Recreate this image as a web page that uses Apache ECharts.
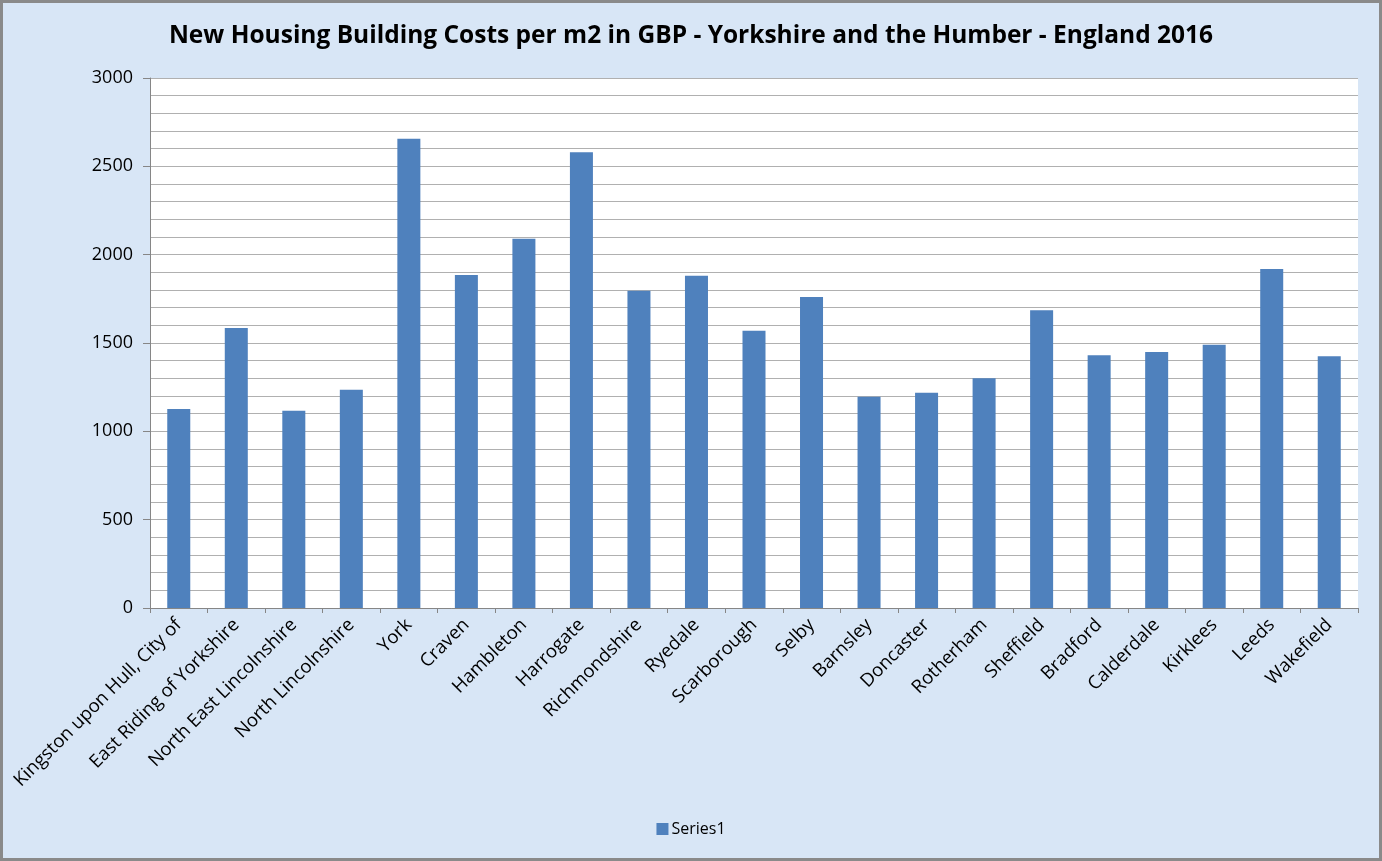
<!DOCTYPE html>
<html>
<head>
<meta charset="utf-8">
<script src="https://cdn.jsdelivr.net/npm/echarts@6/dist/echarts.min.js"></script>
<style>
html,body{margin:0;padding:0;}
#c{width:1382px;height:861px;box-sizing:border-box;border:3px solid #8a8a8a;background:#d8e6f6;}
</style>
</head>
<body>
<div id="c"></div>
<script>
const categories = ["Kingston upon Hull, City of","East Riding of Yorkshire","North East Lincolnshire","North Lincolnshire","York","Craven","Hambleton","Harrogate","Richmondshire","Ryedale","Scarborough","Selby","Barnsley","Doncaster","Rotherham","Sheffield","Bradford","Calderdale","Kirklees","Leeds","Wakefield"];
const series1 = [1127,1585,1116,1235,2656,1885,2090,2580,1796,1880,1569,1761,1196,1218,1300,1685,1431,1449,1490,1919,1425];
const yTicks = [0,500,1000,1500,2000,2500,3000];

const chart = echarts.init(document.getElementById('c'));
chart.setOption({
  backgroundColor: 'transparent',
  animation: false,
  title: {
    text: 'New Housing Building Costs per m2 in GBP - Yorkshire and the Humber - England 2016',
    left: 'center', top: 16,
    textStyle: {fontFamily: 'Open Sans', fontWeight: 'bold', fontSize: 24.5, color: '#000'}
  },
  legend: {
    bottom: 16, left: 'center',
    itemWidth: 12, itemHeight: 12, itemGap: 4,
    icon: 'rect',
    textStyle: {fontFamily: 'Open Sans', fontSize: 16, color: '#000', padding:[0,0,0,-2]},
    data: ['Series1']
  },
  grid: {left: 147, right: 21, top: 75, bottom: 250, containLabel: false},
  xAxis: {
    type: 'category', data: categories,
    axisLine: {lineStyle: {color: '#868686', width: 1}},
    axisTick: {show: true, alignWithLabel: false, length: 5, lineStyle: {color: '#868686'}},
    axisLabel: {rotate: 45, interval: 0, margin: 14, fontFamily: 'Open Sans', fontSize: 18.5, color: '#000'}
  },
  yAxis: {
    type: 'value', min: yTicks[0], max: yTicks[yTicks.length-1], interval: 500,
    axisLine: {show: true, lineStyle: {color: '#868686'}},
    axisTick: {show: true, length: 7, lineStyle: {color: '#868686'}},
    axisLabel: {fontFamily: 'Open Sans', fontSize: 18, color: '#000', margin: 17, formatter: v => String(v)},
    splitLine: {show: true, lineStyle: {color: '#b0b0b0', width: 1}},
    minorTick: {show: false, splitNumber: 5},
    minorSplitLine: {show: true, lineStyle: {color: '#b0b0b0', width: 1}}
  },
  series: [{
    name: 'Series1', type: 'bar', data: series1,
    barCategoryGap: '60%',
    itemStyle: {color: '#4f81bd'}
  }],
  graphic: [{
    type: 'rect', z: -1,
    shape: {x: 147, y: 75, width: 1382-6-147-21, height: 861-6-75-250},
    style: {fill: '#ffffff'}
  }]
});
</script>
</body>
</html>
